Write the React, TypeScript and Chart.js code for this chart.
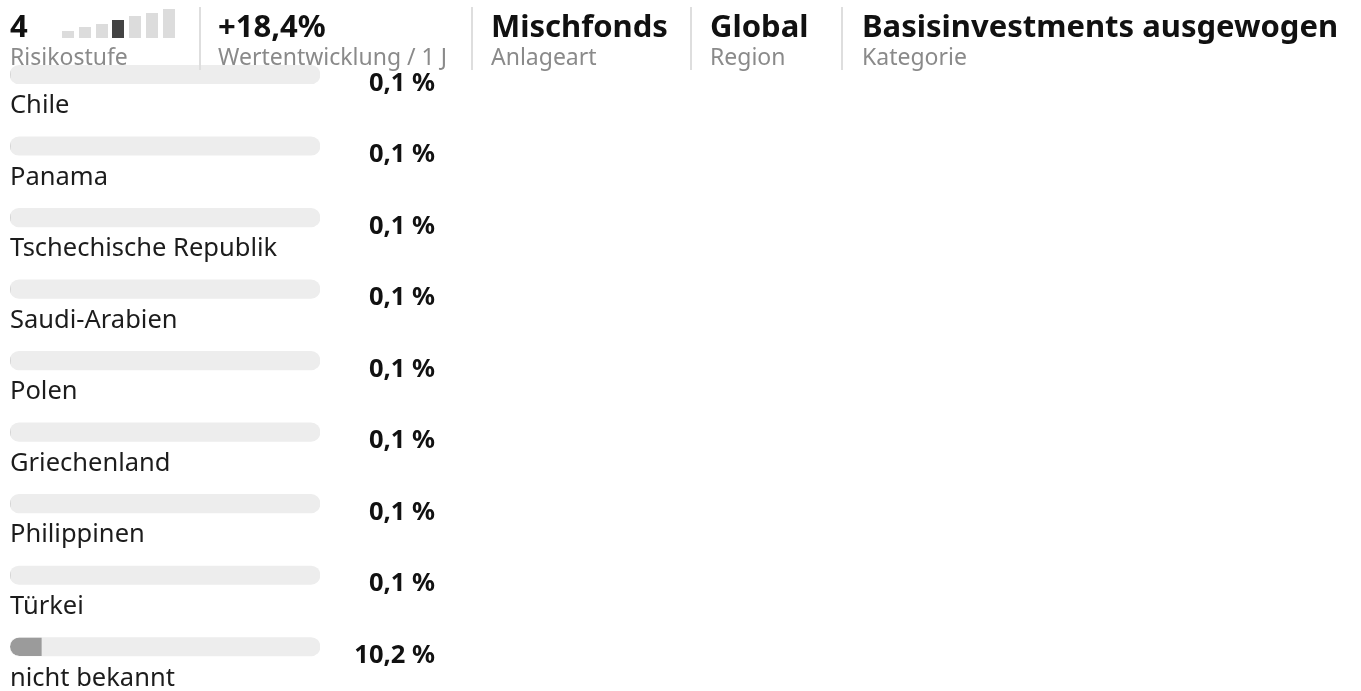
import React, { useEffect, useRef } from 'react';
import { Chart, registerables } from 'chart.js';

Chart.register(...registerables);

// ---- Data ----
const countries = [
  'Chile',
  'Panama',
  'Tschechische Republik',
  'Saudi-Arabien',
  'Polen',
  'Griechenland',
  'Philippinen',
  'Türkei',
  'nicht bekannt',
];
const shares = [0.1, 0.1, 0.1, 0.1, 0.1, 0.1, 0.1, 0.1, 10.2];
const trackMax = 100;

const riskSteps = [1, 2, 3, 4, 5, 6, 7];
const riskLevel = 4;

const headerValues = [String(riskLevel), '+18,4%', 'Mischfonds', 'Global', 'Basisinvestments ausgewogen'];
const headerLabels = ['Risikostufe', 'Wertentwicklung / 1 J', 'Anlageart', 'Region', 'Kategorie'];

// ---- Styles ----
const FONT = '"Noto Sans", "Open Sans", sans-serif';
const W = 1361;
const H = 691;
const blockLefts = [10, 218, 491, 710, 862];
const separatorLefts = [199, 471, 690, 841];

const fmt = (v: number) =>
  v.toLocaleString('de-DE', { minimumFractionDigits: 1, maximumFractionDigits: 1 }) + '\u00a0%';

const rowLabelPlugin = {
  id: 'rowLabels',
  afterDatasetsDraw(chart: any) {
    const ctx = chart.ctx as CanvasRenderingContext2D;
    const meta = chart.getDatasetMeta(0);
    const left = chart.chartArea.left;
    const valueRight = chart.chartArea.right + 115;
    ctx.save();
    ctx.textBaseline = 'alphabetic';
    meta.data.forEach((bar: any, i: number) => {
      const y = bar.y;
      ctx.fillStyle = '#1c1c1c';
      ctx.font = `25.5px ${FONT}`;
      ctx.textAlign = 'left';
      ctx.fillText(countries[i], left, y + 38.8);
      ctx.fillStyle = '#111';
      ctx.font = `bold 25.5px ${FONT}`;
      ctx.textAlign = 'right';
      ctx.fillText(fmt(shares[i]), valueRight, y + 16);
    });
    ctx.restore();
  },
};

// clip the value bars to the rounded track shape
const trackClipPlugin = {
  id: 'trackClip',
  beforeDatasetDraw(chart: any, args: any) {
    if (args.index !== 0) return;
    const ctx = chart.ctx as CanvasRenderingContext2D;
    const track = chart.getDatasetMeta(1).data;
    ctx.save();
    ctx.beginPath();
    track.forEach((el: any) => {
      const p = el.getProps(['x', 'y', 'base', 'height'], true);
      const l = Math.min(p.x, p.base);
      const r = Math.max(p.x, p.base);
      const t = p.y - p.height / 2;
      (ctx as any).roundRect(l, t, r - l, p.height, p.height / 2);
    });
    ctx.clip();
  },
  afterDatasetDraw(chart: any, args: any) {
    if (args.index !== 0) return;
    chart.ctx.restore();
  },
};

function Header() {
  return (
    <>
      {separatorLefts.map((x, i) => (
        <div
          key={'sep' + i}
          style={{ position: 'absolute', left: x, top: 7, width: 2, height: 63, background: '#dedede' }}
        />
      ))}
      {headerValues.map((v, i) => (
        <div
          key={'v' + i}
          style={{
            position: 'absolute',
            left: blockLefts[i],
            top: 10,
            fontFamily: FONT,
            fontWeight: 700,
            fontSize: 31,
            lineHeight: '31px',
            color: '#111',
            whiteSpace: 'nowrap',
          }}
        >
          {v}
        </div>
      ))}
      {headerLabels.map((l, i) => (
        <div
          key={'l' + i}
          style={{
            position: 'absolute',
            left: blockLefts[i],
            top: 45,
            fontFamily: FONT,
            fontSize: 23,
            lineHeight: '23px',
            color: '#8a8a8a',
            whiteSpace: 'nowrap',
          }}
        >
          {l}
        </div>
      ))}
      {riskSteps.map((s, i) => {
        const h = 3.3 + 3.67 * s;
        return (
          <div
            key={'r' + i}
            style={{
              position: 'absolute',
              left: 62 + i * 16.8,
              top: 38 - h,
              width: 12,
              height: h,
              background: s === riskLevel ? '#434343' : '#dcdcdc',
            }}
          />
        );
      })}
    </>
  );
}

export default function App() {
  const canvasRef = useRef<HTMLCanvasElement | null>(null);

  useEffect(() => {
    const canvas = canvasRef.current;
    if (!canvas) return;
    const chart = new Chart(canvas, {
      type: 'bar',
      data: {
        labels: countries,
        datasets: [
          {
            label: 'Anteil',
            data: shares,
            backgroundColor: '#9b9b9b',
            borderWidth: 0,
            borderRadius: 9,
            borderSkipped: 'right',
            inflateAmount: 0,
            barThickness: 18.5,
            grouped: false,
            order: 1,
          },
          {
            label: 'Track',
            data: countries.map(() => trackMax),
            backgroundColor: '#ededed',
            borderWidth: 0,
            borderRadius: 9.25,
            borderSkipped: false,
            barThickness: 18.5,
            grouped: false,
            order: 2,
          },
        ],
      },
      options: {
        indexAxis: 'y',
        responsive: false,
        animation: false,
        events: [],
        layout: {
          padding: { left: 10, right: W - 320, top: 38.75, bottom: H - 682.5 },
        },
        scales: {
          x: { display: false, min: 0, max: trackMax },
          y: { display: false, offset: true },
        },
        plugins: {
          legend: { display: false },
          tooltip: { enabled: false },
        },
      },
      plugins: [trackClipPlugin, rowLabelPlugin],
    });
    return () => chart.destroy();
  }, []);

  return (
    <div
      style={{
        position: 'fixed',
        left: 0,
        top: 0,
        width: W,
        height: H,
        background: '#fff',
        overflow: 'hidden',
      }}
    >
      <canvas ref={canvasRef} width={W} height={H} style={{ position: 'absolute', left: 0, top: 0, display: 'block' }} />
      <Header />
    </div>
  );
}
